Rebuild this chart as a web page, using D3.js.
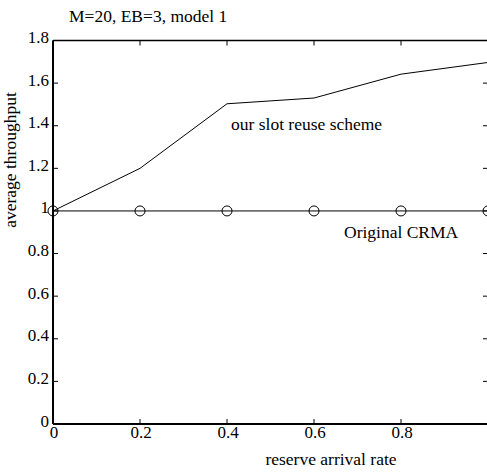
<!DOCTYPE html>
<html>
<head>
<meta charset="utf-8">
<script src="https://cdn.jsdelivr.net/npm/d3@7"></script>
<style>
  body { margin: 0; background: #fff; }
  svg { font-family: "Liberation Serif", "Times New Roman", serif; }
</style>
</head>
<body>
<div id="chart"></div>
<script>
// Data.
var rates = [0, 0.2, 0.4, 0.6, 0.8, 1.0];
var reuseValues = [1.0, 1.2, 1.503, 1.53, 1.642, 1.697];
var crmaValues = [1.0, 1.0, 1.0, 1.0, 1.0, 1.0];
var xTicks = [0, 0.2, 0.4, 0.6, 0.8];
var yTicks = [0, 0.2, 0.4, 0.6, 0.8, 1, 1.2, 1.4, 1.6, 1.8];

var w = 487,
  h = 476;

var x = d3.scaleLinear().domain([0, 1]).range([53, 488]);
var y = d3.scaleLinear().domain([0, 1.8]).range([424, 40.5]);

var svg = d3.select('#chart')
  .append('svg')
  .attr('width', w)
  .attr('height', h);

// Title.
svg.append('text')
  .attr('x', 69)
  .attr('y', 22)
  .style('font-size', '17.5px')
  .text('M=20, EB=3, model 1');

// Inner ticks on all four sides.
var tickLen = 5;
var g = svg.append('g').attr('stroke', '#000').attr('stroke-width', 1);
xTicks.forEach(function (t) {
  g.append('line').attr('x1', x(t)).attr('x2', x(t)).attr('y1', y(0)).attr('y2', y(0) - tickLen);
  g.append('line').attr('x1', x(t)).attr('x2', x(t)).attr('y1', y(1.8)).attr('y2', y(1.8) + tickLen);
});
yTicks.forEach(function (t) {
  g.append('line').attr('x1', x(0)).attr('x2', x(0) + tickLen).attr('y1', y(t)).attr('y2', y(t));
  g.append('line').attr('x1', x(1)).attr('x2', x(1) - tickLen).attr('y1', y(t)).attr('y2', y(t));
});

// Frame.
svg.append('line')
  .attr('x1', x(0)).attr('x2', x(1)).attr('y1', y(1.8)).attr('y2', y(1.8))
  .attr('stroke', '#000').attr('stroke-width', 1.5);
svg.append('line')
  .attr('x1', x(0)).attr('x2', x(0)).attr('y1', y(1.8)).attr('y2', y(0))
  .attr('stroke', '#000').attr('stroke-width', 2);
svg.append('line')
  .attr('x1', x(0)).attr('x2', x(1)).attr('y1', y(0)).attr('y2', y(0))
  .attr('stroke', '#000').attr('stroke-width', 2);

// Tick labels.
svg.selectAll('.xl')
  .data(xTicks)
  .enter()
  .append('text')
  .attr('x', function (d) { return x(d) + 1; })
  .attr('y', 438)
  .attr('text-anchor', 'middle')
  .style('font-size', '17px')
  .text(function (d) { return d; });

svg.selectAll('.yl')
  .data(yTicks)
  .enter()
  .append('text')
  .attr('x', 49)
  .attr('y', function (d) { return y(d) + 2.5; })
  .attr('text-anchor', 'end')
  .style('font-size', '17px')
  .text(function (d) { return d; });

// Axis titles.
svg.append('text')
  .attr('x', 331)
  .attr('y', 465)
  .attr('text-anchor', 'middle')
  .style('font-size', '17.5px')
  .text('reserve arrival rate');
svg.append('text')
  .attr('transform', 'translate(16,160) rotate(-90)')
  .attr('text-anchor', 'middle')
  .style('font-size', '17.5px')
  .text('average throughput');

// Series.
var line = d3.line()
  .x(function (d, i) { return x(rates[i]); })
  .y(function (d) { return y(d); });

svg.append('path')
  .attr('d', line(reuseValues))
  .attr('fill', 'none')
  .attr('stroke', '#000')
  .attr('stroke-width', 1);
svg.append('path')
  .attr('d', line(crmaValues))
  .attr('fill', 'none')
  .attr('stroke', '#000')
  .attr('stroke-width', 1);

svg.selectAll('.mk')
  .data(crmaValues)
  .enter()
  .append('ellipse')
  .attr('cx', function (d, i) { return x(rates[i]); })
  .attr('cy', function (d) { return y(d); })
  .attr('rx', 5)
  .attr('ry', 5)
  .attr('fill', 'none')
  .attr('stroke', '#000')
  .attr('stroke-width', 1);

// In-plot labels.
svg.append('text')
  .attr('x', 231)
  .attr('y', 130)
  .style('font-size', '17.5px')
  .text('our slot reuse scheme');
svg.append('text')
  .attr('x', 344)
  .attr('y', 238)
  .style('font-size', '17.5px')
  .text('Original CRMA');
</script>
</body>
</html>
